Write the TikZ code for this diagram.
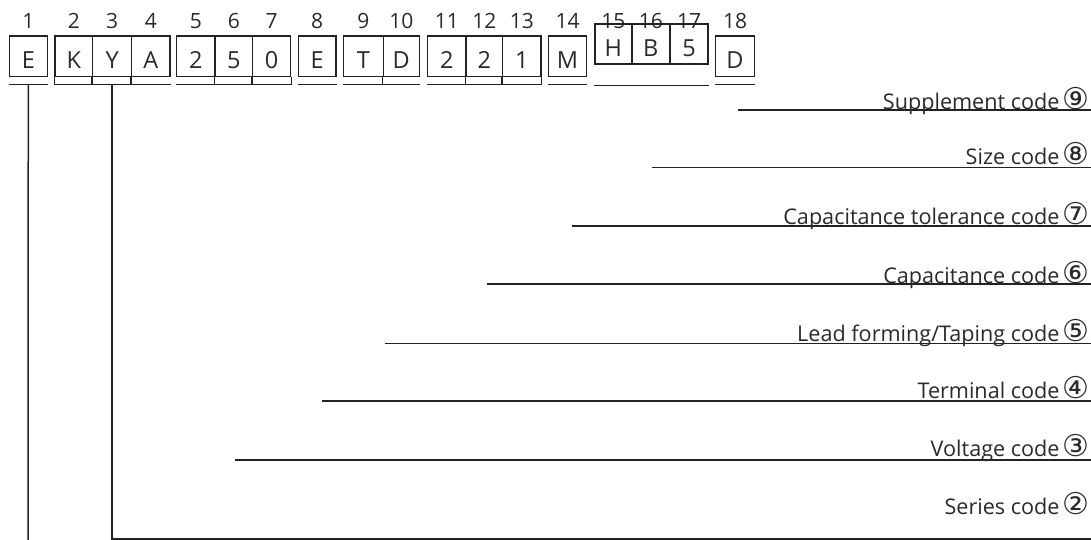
\documentclass[tikz,border=0pt]{standalone}
\usepackage{fontspec}
\setmainfont{Open Sans}
\newfontfamily\circfont{DejaVu Sans}
\definecolor{ink}{HTML}{222222}
\definecolor{txt}{HTML}{2a2a2a}
\begin{document}
\begin{tikzpicture}[x=1pt,y=-1pt,
  chr/.style={draw=ink, line width=1.3pt, inner sep=0pt, minimum height=40.7pt,
    text height=24pt, text depth=0pt, text=txt, font=\fontsize{23.5}{27}\selectfont},
  chrb/.style={chr, line width=1.8pt, minimum height=40pt},
  num/.style={anchor=base, inner sep=0pt, text=txt, font=\fontsize{21}{25}\selectfont},
  lab/.style={anchor=base east, inner sep=0pt, text=txt, font=\fontsize{21.6}{26}\selectfont},
  circ/.style={anchor=base east, inner sep=0pt, text=txt, font=\circfont\fontsize{30}{34}\selectfont},
  uline/.style={draw=ink, line width=1.3pt},
  conn/.style={draw=ink, line width=1.5pt},
  ldr/.style={draw=ink, line width=1.3pt}]
\fill[white] (0,0) rectangle (1091,540);
\useasboundingbox (0,0) rectangle (1091,540);
% boxes: name, x0, x1, char
\foreach \n/\a/\b/\c in {1/9.3/47.3/E, 2/55/92.7/K, 3/92.7/131.7/Y, 4/131.7/170/A,
  5/176.7/215/2, 6/215/252.7/5, 7/252.7/290.7/0, 8/298.3/336/E, 9/343.3/383.3/T,
  10/383.3/419.3/D, 11/427.7/466/2, 12/466/502.7/2, 13/502.7/541/1, 14/548.3/586.7/M,
  18/715.7/754.3/D}{
  \pgfmathsetmacro\w{\b-\a}
  \pgfmathsetmacro\m{(\a+\b)/2}
  \node[chr, minimum width=\w pt] (b\n) at (\m,56.35) {\c};
  \node[num] (n\n) at (\m,28.3) {\n};
}
\foreach \n/\a/\b/\c in {15/595/631.7/H, 16/631.7/670/B, 17/670/708.3/5}{
  \pgfmathsetmacro\w{\b-\a}
  \pgfmathsetmacro\m{(\a+\b)/2}
  \node[num] (n\n) at (\m,28.3) {\n};
  \node[chrb, minimum width=\w pt] (b\n) at (\m,44.3) {\c};
}
% underlines
\foreach \p/\q in {1/1, 2/4, 5/7, 8/8, 9/10, 11/13, 14/14, 18/18}{
  \draw[uline] ([yshift=-7.5pt]b\p.south west) -- ([yshift=-7.5pt]b\q.south east);
}
\draw[uline] ([yshift=-20pt]b15.south west) -- ([yshift=-20pt]b17.south east);
% strips joining boxes to their underlines
\foreach \n in {2,3,4,6,7,10,12,13}{
  \draw[uline] (b\n.south west) -- ++(0,7.5);
}
\foreach \n in {7,13}{
  \draw[uline] (b\n.south east) -- ++(0,7.5);
}
% label leaders
\coordinate (ebot) at (28,540);
\foreach \k/\sx/\ly in {9/738/110, 8/652/167.3, 7/572/226, 6/487/284,
  5/385/343.3, 4/322/401, 3/235/460}{
  \coordinate (s\k) at (\sx,\ly);
  \coordinate (e\k) at (1091,\ly);
  \draw[ldr] (s\k) -- (e\k);
}
% labels: circled digit, then text
\foreach \k/\by/\t/\c in {
  9/108.3/Supplement code/⑨,
  8/163.3/Size code/⑧,
  7/223.3/Capacitance tolerance code/⑦,
  6/281.7/Capacitance code/⑥,
  5/340/Lead forming\slash Taping code/⑤,
  4/396.7/Terminal code/④,
  3/455/Voltage code/③,
  2/513.3/Series code/②}{
  \node[circ] (c\k) at (1090,\by+1.5) {\c};
  \node[lab] (lab\k) at ([xshift=-3pt]c\k.base west) {\t};
}
% connectors
\draw[conn] ([yshift=-7.5pt]b1.south) -- (ebot);
\coordinate (e2) at (1091,539);
\draw[conn] ([yshift=-7.5pt]b3.south) |- (e2);
\end{tikzpicture}
\end{document}
